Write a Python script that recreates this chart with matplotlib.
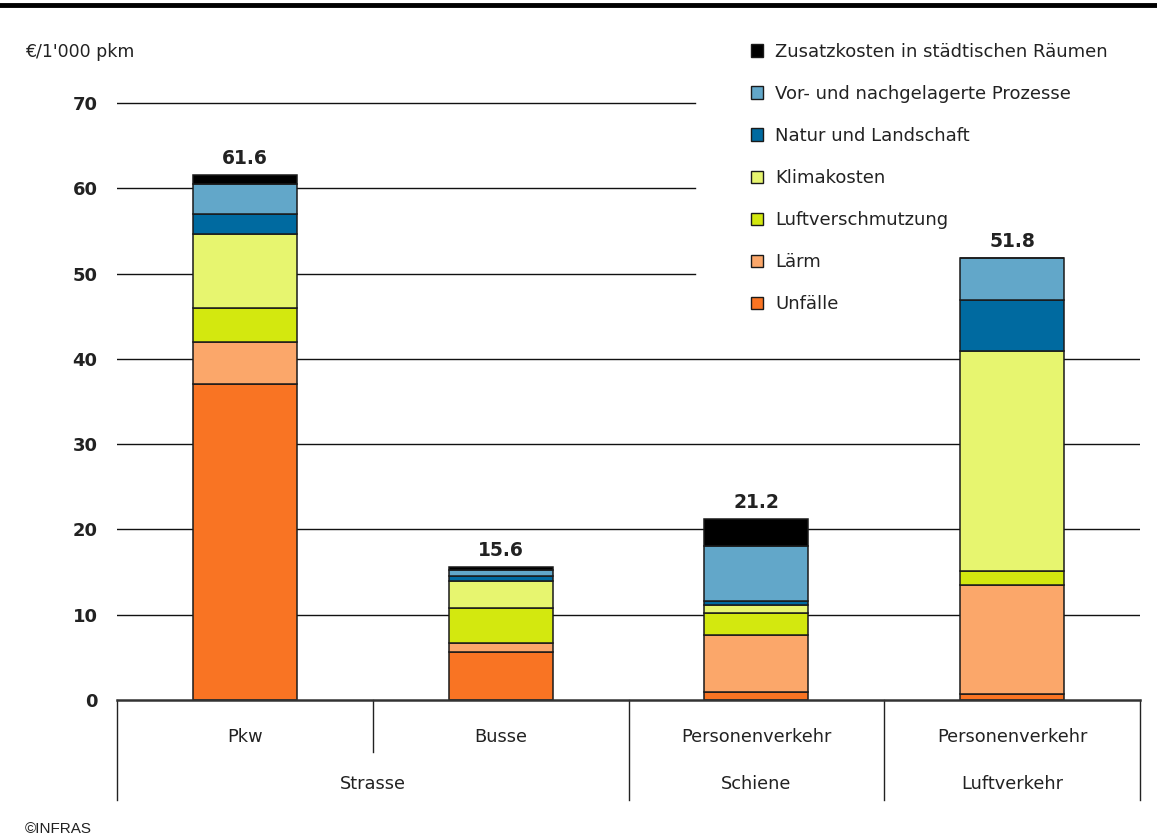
import matplotlib
matplotlib.use("Agg")
import matplotlib.pyplot as plt
from matplotlib.patches import Patch
import matplotlib.transforms as mtransforms
import numpy as np

categories = ["Pkw", "Busse", "Personenverkehr", "Personenverkehr"]
groups = ["Strasse", "Schiene", "Luftverkehr"]
series_names = ["Unfälle", "Lärm", "Luftverschmutzung", "Klimakosten",
                "Natur und Landschaft", "Vor- und nachgelagerte Prozesse",
                "Zusatzkosten in städtischen Räumen"]
unfaelle = [37.1, 5.6, 0.9, 0.7]
laerm = [4.9, 1.1, 6.7, 12.8]
luft = [4.0, 4.1, 2.6, 1.6]
klima = [8.6, 3.2, 0.9, 25.8]
natur = [2.4, 0.5, 0.5, 6.0]
vor_nach = [3.5, 0.7, 6.5, 4.9]
zusatz = [1.1, 0.4, 3.1, 0.0]
totals = [61.6, 15.6, 21.2, 51.8]
yticks = [0, 10, 20, 30, 40, 50, 60, 70]

series = [unfaelle, laerm, luft, klima, natur, vor_nach, zusatz]
colors = ["#F97423", "#FBA76A", "#D3E80F", "#E7F56F", "#006AA0", "#62A7C9", "#000000"]

W, H = 1157, 840
fig = plt.figure(figsize=(W / 100, H / 100), dpi=100)
ax_left, ax_right, ax_bottom = 117, 1140, 700
ymax = 72
ppu = 597 / 70
ax_top = ax_bottom - ymax * ppu
ax = fig.add_axes([ax_left / W, (H - ax_bottom) / H, (ax_right - ax_left) / W,
                   (ax_bottom - ax_top) / H])
ax.set_xlim(-0.5, 3.5)
ax.set_ylim(0, ymax)

tc = "#222222"
# gridlines (upper ones stop where legend area starts)
for v in yticks[1:]:
    xmax = 0.565 if v >= 50 else 1.0
    ax.axhline(v, xmin=0, xmax=xmax, color="#111111", lw=1.0, zorder=0)

x = np.arange(len(categories))
bottom = np.zeros(len(categories))
for vals, col, name in zip(series, colors, series_names):
    ax.bar(x, vals, width=0.406, bottom=bottom, color=col, edgecolor="#1a1a1a",
           linewidth=1.1, zorder=2, label=name)
    bottom += np.array(vals)

for xi, t in zip(x, totals):
    ax.annotate(f"{t:.1f}", (xi, t), xytext=(0, 5), textcoords="offset points",
                ha="center", va="bottom", fontsize=13.5, fontweight="bold", color=tc)

for s in ["top", "right", "left"]:
    ax.spines[s].set_visible(False)
ax.spines["bottom"].set_color("#333333")
ax.spines["bottom"].set_linewidth(1.8)
ax.set_yticks(yticks)
ax.set_yticklabels([str(v) for v in yticks], fontsize=13, fontweight="bold", color=tc)
ax.tick_params(axis="y", length=0, pad=14)
ax.set_xticks([])

# category table below axis
axh = ax_bottom - ax_top
trans = mtransforms.blended_transform_factory(ax.transData, ax.transAxes)
def yfrac(py):
    return -(py - ax_bottom) / axh
for xb, ybot in [(-0.5, 800), (0.5, 752), (1.5, 800), (2.5, 800), (3.5, 800)]:
    ax.plot([xb, xb], [0, yfrac(ybot)], transform=trans, color="#222222",
            lw=1.0, clip_on=False)
for xi, c in zip(x, categories):
    ax.text(xi, yfrac(737), c, transform=trans, ha="center", va="center",
            fontsize=12.8, color=tc)
group_pos = [0.5, 2, 3]
for gx, g in zip(group_pos, groups):
    ax.text(gx, yfrac(784), g, transform=trans, ha="center", va="center",
            fontsize=12.8, color=tc)

# legend
handles = [Patch(facecolor=c, edgecolor="#1a1a1a", linewidth=1.0, label=n)
           for c, n in zip(colors, series_names)][::-1]
leg = ax.legend(handles=handles, loc="upper left",
                bbox_to_anchor=(751 / W, 1 - 43 / H), bbox_transform=fig.transFigure,
                frameon=False, fontsize=13, handlelength=0.68, handleheight=0.68,
                handletextpad=0.65, labelspacing=1.33, borderpad=0, borderaxespad=0)
for t in leg.get_texts():
    t.set_color(tc)

fig.text(25 / W, 1 - 52 / H, "€/1'000 pkm", ha="left", va="center", fontsize=12.5, color=tc)
fig.text(25 / W, 1 - 829 / H, "©INFRAS", ha="left", va="center", fontsize=11,
         color=tc, family="Liberation Sans")
fig.add_artist(plt.Line2D([0, 1], [1 - 5 / H, 1 - 5 / H], transform=fig.transFigure,
                          color="black", lw=3.5))

fig.savefig("out.png", dpi=100, facecolor="white")
